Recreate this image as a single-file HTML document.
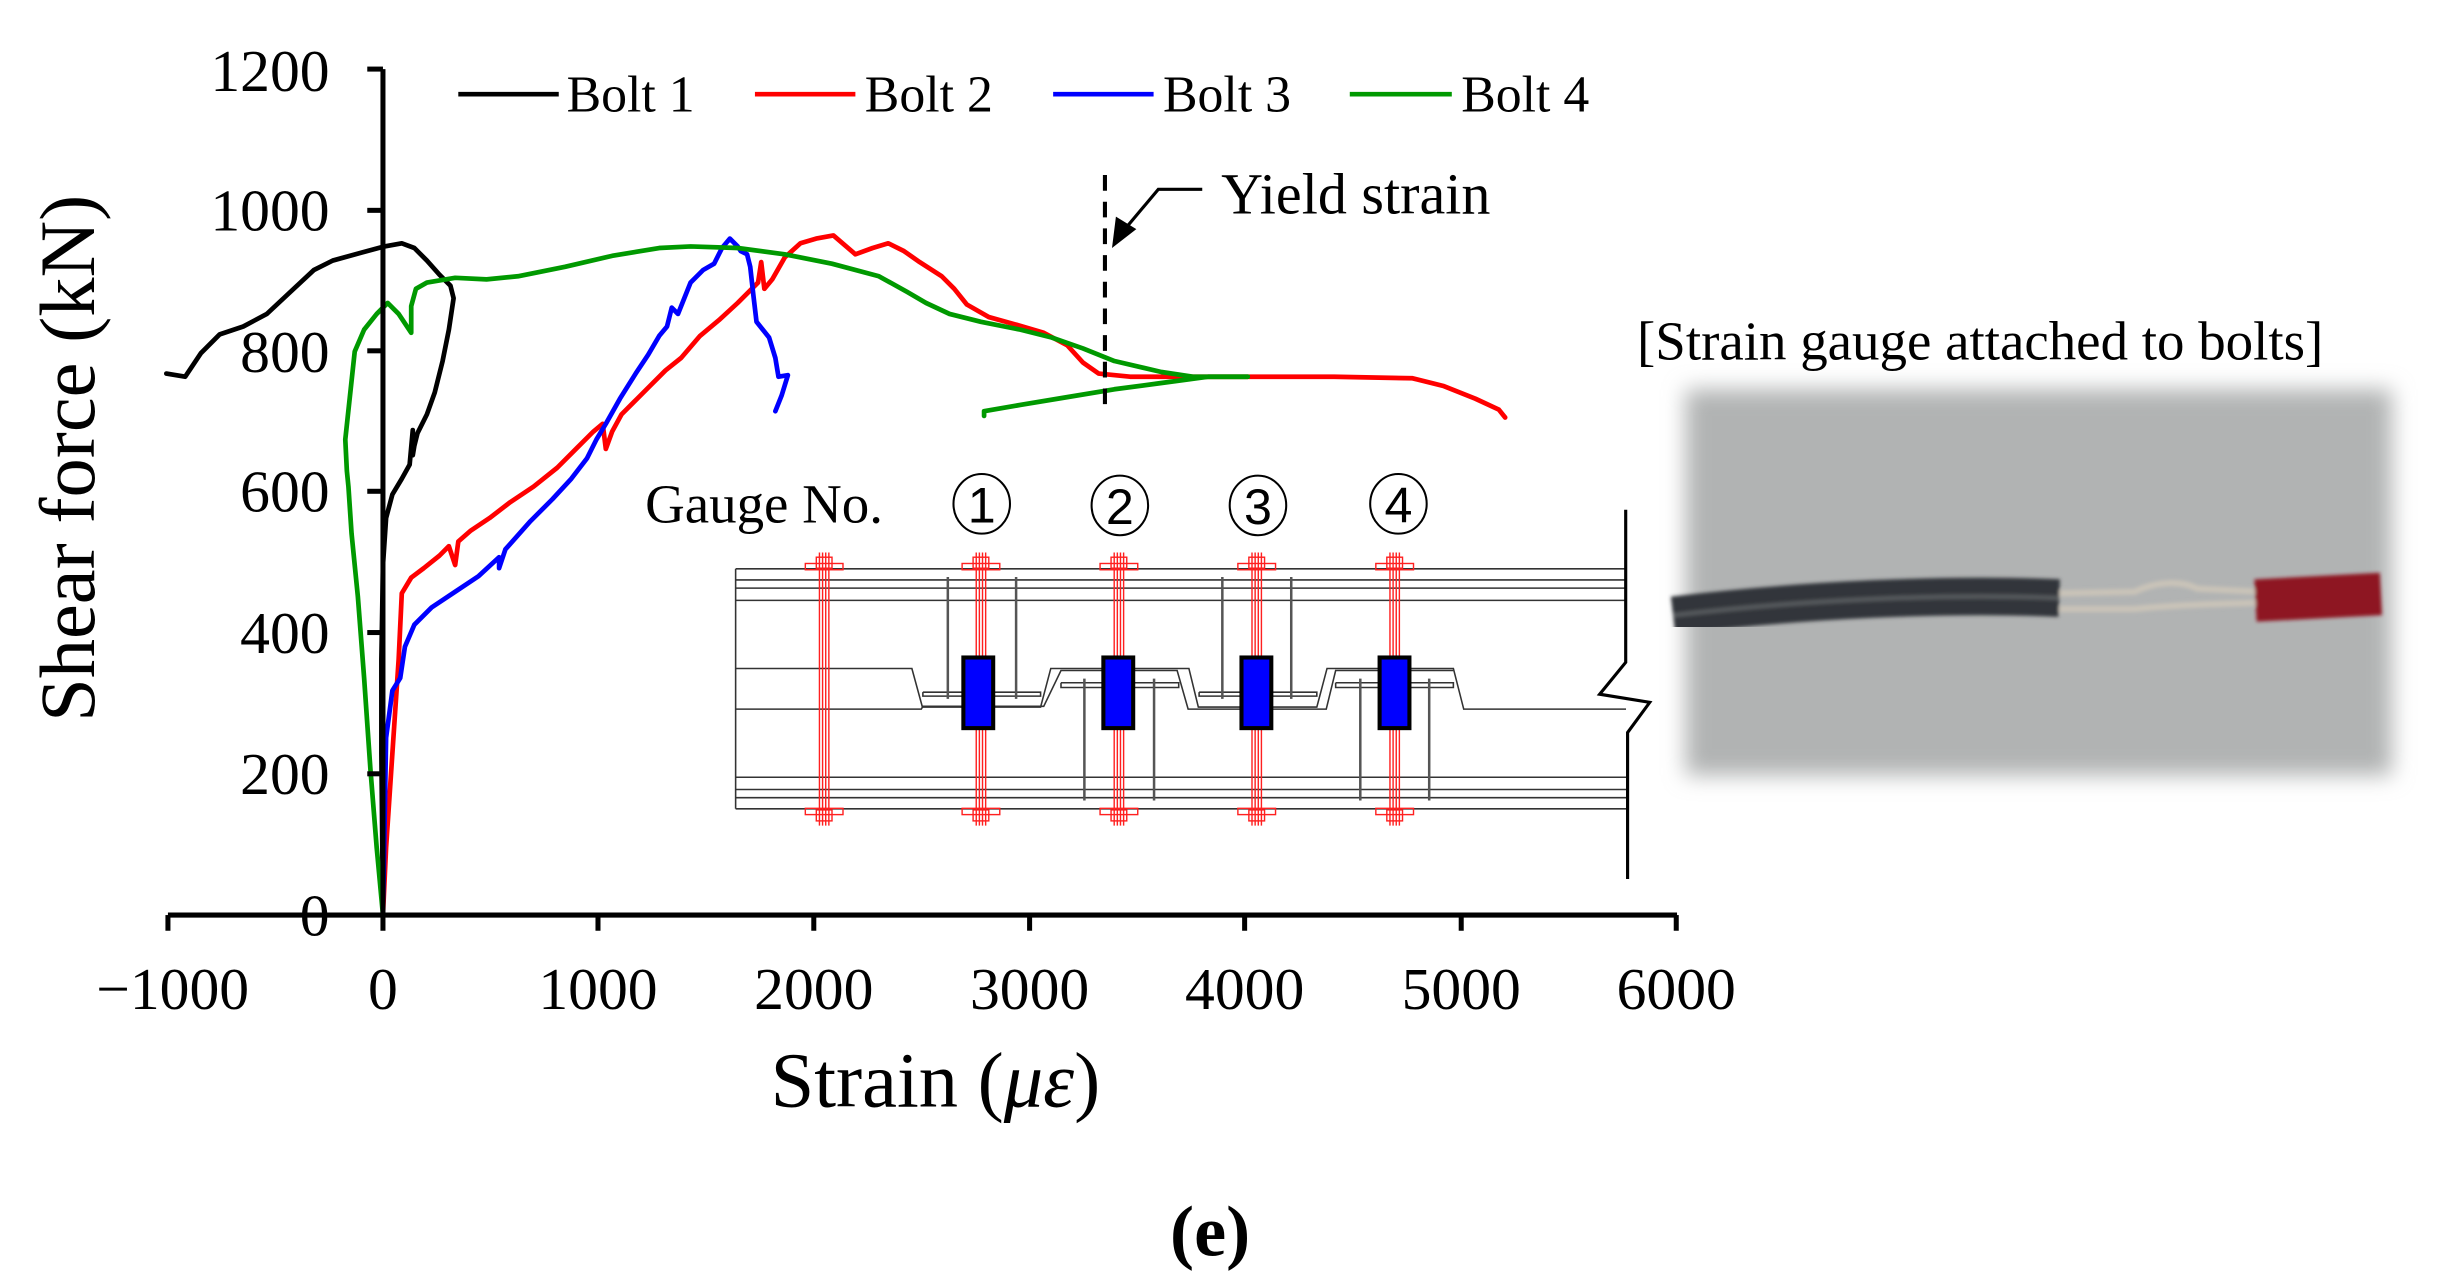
<!DOCTYPE html>
<html><head><meta charset="utf-8"><style>
html,body{margin:0;padding:0;background:#fff;}
svg{display:block;}
text{font-family:"Liberation Serif",serif;fill:#000;}
</style></head><body>
<svg width="2461" height="1288" viewBox="0 0 1568 820.6" xmlns="http://www.w3.org/2000/svg">
<defs>
<filter id="bl" x="-20%" y="-20%" width="140%" height="140%"><feGaussianBlur stdDeviation="7"/></filter>
<filter id="bl2"><feGaussianBlur stdDeviation="1.2"/></filter>
<g id="bolt" stroke="#ff2020" stroke-width="0.9" fill="none">
<line x1="-3" y1="352" x2="-3" y2="526"/><line x1="3" y1="352" x2="3" y2="526"/>
<line x1="-1" y1="352" x2="-1" y2="526"/><line x1="1" y1="352" x2="1" y2="526"/>
<rect x="-5" y="355" width="10" height="7"/><rect x="-12" y="359" width="24" height="4"/>
<rect x="-5" y="516" width="10" height="7"/><rect x="-12" y="515" width="24" height="4"/>
</g>
</defs>

<!-- photo -->
<rect x="1074" y="248" width="450" height="246" fill="#b1b3b3" filter="url(#bl)"/>
<g filter="url(#bl2)">
<path d="M1066,392 C1150,382 1240,378 1312,381" stroke="#33363a" stroke-width="24" fill="none"/>
<path d="M1066,392 C1150,382 1240,378 1312,381" stroke="#55595c" stroke-width="3" fill="none"/>
<path d="M1312,378 L1360,377 C1375,370 1390,370 1400,375 L1440,377" stroke="#c9c3b8" stroke-width="4" fill="none"/>
<path d="M1312,388 L1360,388 C1380,386 1400,385 1440,384" stroke="#c9c3b8" stroke-width="4" fill="none"/>
<rect x="1437" y="367" width="80" height="27" fill="#8e1520" transform="rotate(-3 1477 380)"/>
</g>
<text x="1043" y="229" font-size="35">[Strain gauge attached to bolts]</text>

<!-- diagram -->
<g stroke="#333" stroke-width="1" fill="none">
<line x1="468.7" y1="362.4" x2="1036" y2="362.4"/>
<line x1="468.7" y1="369.5" x2="1036" y2="369.5"/>
<line x1="468.7" y1="374.7" x2="1036" y2="374.7"/>
<line x1="468.7" y1="382.5" x2="1036" y2="382.5"/>
<line x1="468.7" y1="495.2" x2="1036" y2="495.2"/>
<line x1="468.7" y1="503" x2="1036" y2="503"/>
<line x1="468.7" y1="508.2" x2="1036" y2="508.2"/>
<line x1="468.7" y1="515.3" x2="1036" y2="515.3"/>
<line x1="468.7" y1="362.4" x2="468.7" y2="515.3"/>
<polyline points="468.7,425.9 581,425.9 587.7,450.5 663,450.5 669.5,425.9 757.5,425.9 763.5,450.5 839,450.5 845.5,425.9 926,425.9 932.6,451.8 1036,451.8"/>
<polyline points="468.7,451.8 587,451.8 588,450 665,450 676,427.2 750,427.2 757,451.8 845,451.8 851,427.2 926,427.2"/>
<polyline points="588,441 663,441 663,443.5 588,443.5 588,441"/>
<polyline points="676,435 751,435 751,438 676,438 676,435"/>
<polyline points="764,441 839,441 839,443.5 764,443.5 764,441"/>
<polyline points="851,435 926,435 926,438 851,438 851,435"/>
</g>
<g stroke="#555" stroke-width="1.6" fill="none">
<line x1="603.9" y1="367.6" x2="603.9" y2="445.3"/><line x1="647.4" y1="367.6" x2="647.4" y2="445.3"/>
<line x1="690.9" y1="432.4" x2="690.9" y2="510"/><line x1="735.3" y1="432.4" x2="735.3" y2="510"/>
<line x1="778.8" y1="367.6" x2="778.8" y2="445.3"/><line x1="822.7" y1="367.6" x2="822.7" y2="445.3"/>
<line x1="866.7" y1="432.4" x2="866.7" y2="510"/><line x1="910.6" y1="432.4" x2="910.6" y2="510"/>
</g>
<use href="#bolt" x="525.1"/><use href="#bolt" x="625"/><use href="#bolt" x="712.9"/><use href="#bolt" x="800.7"/><use href="#bolt" x="888.6"/>
<g fill="#0000ff" stroke="#000" stroke-width="2.6">
<rect x="613.8" y="418.9" width="19" height="45"/>
<rect x="703" y="418.9" width="19" height="45"/>
<rect x="791" y="418.9" width="19" height="45"/>
<rect x="879" y="418.9" width="19" height="45"/>
</g>
<polyline points="1035.8,324.8 1035.8,422 1019.2,442.3 1051.1,447.5 1037,466.7 1037,560" stroke="#000" stroke-width="2" fill="none"/>
<text x="411" y="333" font-size="35">Gauge No.</text>
<g fill="none" stroke="#000" stroke-width="1.3">
<ellipse cx="625.5" cy="321" rx="18" ry="19"/><ellipse cx="713.5" cy="322" rx="18" ry="19"/>
<ellipse cx="801.5" cy="322" rx="18" ry="19"/><ellipse cx="891" cy="321" rx="18" ry="19"/>
</g>
<g font-size="32" text-anchor="middle">
<text x="625.5" y="333" style="font-family:'Liberation Sans',sans-serif">1</text>
<text x="713.5" y="334" style="font-family:'Liberation Sans',sans-serif">2</text>
<text x="801.5" y="334" style="font-family:'Liberation Sans',sans-serif">3</text>
<text x="891" y="333" style="font-family:'Liberation Sans',sans-serif">4</text>
</g>

<!-- series -->
<g fill="none" stroke-width="3" stroke-linejoin="round" stroke-linecap="round">
<polyline stroke="#000" points="106,238 118,240 128,225 140,213 155,208 170,200 185,186 200,172 212,166 230,161 245,157 256,155 264,158 272,166 280,175 287,182 289,190 286,210 282,230 277,250 272,264 266,276 264,284 263,290 263,274 261,296 256,305 250,315 246,330 244,360 243,420 243,480 244,583"/>
<polyline stroke="#ff0000" points="244,583 246,540 250,480 254,420 256,378 262,368 270,362 280,354 286,348 290,360 292,345 300,338 312,330 325,320 340,310 355,298 368,285 378,275 384,270 386,286 390,275 396,264 404,256 414,246 424,236 434,228 446,214 458,204 470,193 483,180 485,167 487,184 492,178 500,164 510,155 520,152 531,150 545,162 556,158 566,155 576,160 586,167 600,176 608,184 616,194 630,202 648,207 665,212 680,220 690,231 700,238 720,240 760,240 800,240 850,240 900,241 920,246 940,254 955,261 959,266"/>
<polyline stroke="#0000ff" points="244,583 246,470 250,440 255,432 258,412 264,398 275,387 290,377 305,367 318,355 318,362 322,350 338,332 352,318 364,305 374,292 380,280 386,270 395,254 405,238 413,226 420,214 425,208 428,196 432,200 440,180 448,172 455,168 460,158 465,152 470,157 472,160 476,162 478,170 480,188 482,205 486,210 490,215 494,228 496,240 502,239 498,252 494,262"/>
<polyline stroke="#009900" points="244,583 240,540 236,490 232,432 228,380 224,340 222,310 221,300 220,280 223,252 226,224 232,210 240,200 247,193 254,200 262,212 262,195 265,184 272,180 290,177 310,178 330,176 360,170 390,163 420,158 440,157 470,158 500,162 530,168 560,176 578,186 590,193 605,200 625,205 650,210 670,215 690,222 710,230 740,237 760,240 795,240"/>
<polyline stroke="#009900" points="627,265 627,262 650,258 680,253 710,248 740,244 770,240 795,240"/>
</g>

<!-- yield -->
<line x1="704" y1="111.5" x2="704" y2="259" stroke="#000" stroke-width="2.6" stroke-dasharray="10,7"/>
<polyline points="766,120.6 738,120.6 715,148" stroke="#000" stroke-width="2" fill="none"/>
<polygon points="708.5,158 711,138 724,146" fill="#000"/>
<text x="778" y="136" font-size="37">Yield strain</text>

<!-- legend -->
<g stroke-width="3">
<line x1="292" y1="60" x2="356" y2="60" stroke="#000"/>
<line x1="481" y1="60" x2="545" y2="60" stroke="#ff0000"/>
<line x1="671" y1="60" x2="735" y2="60" stroke="#0000ff"/>
<line x1="860" y1="60" x2="925" y2="60" stroke="#009900"/>
</g>
<g font-size="33">
<text x="361" y="71">Bolt 1</text><text x="551" y="71">Bolt 2</text><text x="741" y="71">Bolt 3</text><text x="931" y="71">Bolt 4</text>
</g>

<!-- axes -->
<g stroke="#000" stroke-width="3.2" fill="none">
<line x1="244" y1="44" x2="244" y2="583"/>
<line x1="107" y1="583" x2="1068.5" y2="583"/>
<line x1="234" y1="44" x2="244" y2="44"/>
<line x1="234" y1="134" x2="244" y2="134"/>
<line x1="234" y1="223.5" x2="244" y2="223.5"/>
<line x1="234" y1="313" x2="244" y2="313"/>
<line x1="234" y1="403" x2="244" y2="403"/>
<line x1="234" y1="493" x2="244" y2="493"/>
<line x1="107" y1="583" x2="107" y2="593"/>
<line x1="244" y1="583" x2="244" y2="593"/>
<line x1="381" y1="583" x2="381" y2="593"/>
<line x1="518.5" y1="583" x2="518.5" y2="593"/>
<line x1="656" y1="583" x2="656" y2="593"/>
<line x1="793" y1="583" x2="793" y2="593"/>
<line x1="931" y1="583" x2="931" y2="593"/>
<line x1="1068" y1="583" x2="1068" y2="593"/>
</g>
<g font-size="38" text-anchor="end">
<text x="210" y="58">1200</text><text x="210" y="147">1000</text><text x="210" y="237">800</text>
<text x="210" y="326">600</text><text x="210" y="416">400</text><text x="210" y="506">200</text><text x="210" y="596">0</text>
</g>
<g font-size="38" text-anchor="middle">
<text x="110" y="643">−1000</text><text x="244" y="643">0</text><text x="381" y="643">1000</text>
<text x="518.5" y="643">2000</text><text x="656" y="643">3000</text><text x="793" y="643">4000</text>
<text x="931" y="643">5000</text><text x="1068" y="643">6000</text>
</g>
<text transform="translate(60,292) rotate(-90)" font-size="50" text-anchor="middle">Shear force (kN)</text>
<text x="596" y="705" font-size="50" text-anchor="middle">Strain (<tspan font-style="italic">με</tspan>)</text>
<text x="771" y="800" font-size="46" font-weight="bold" text-anchor="middle">(e)</text>
</svg>
</body></html>
